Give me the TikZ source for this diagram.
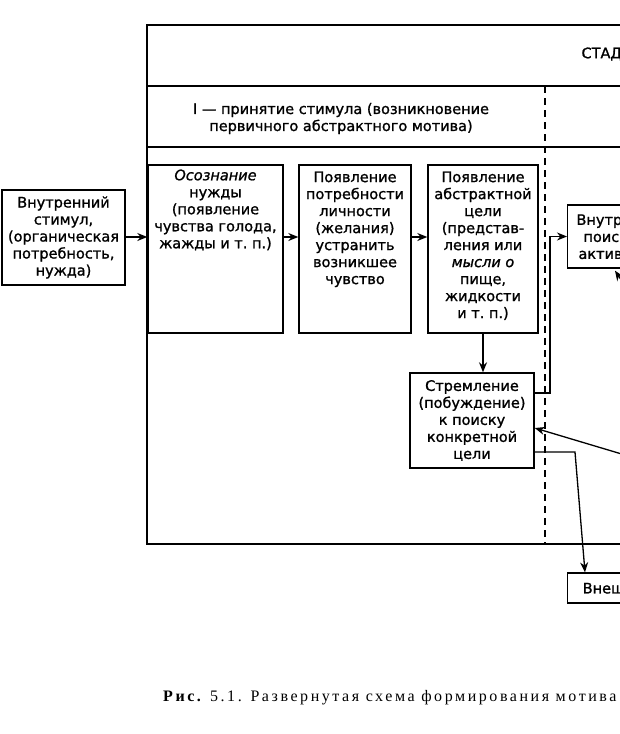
\documentclass[tikz,border=0pt]{standalone}
\usepackage{fontspec}
\newfontfamily\schemafont[FakeBold=1.2]{DejaVu Sans}
\newfontfamily\capfont[LetterSpace=16]{Liberation Serif}
\usepackage{tikz}
\usetikzlibrary{
  positioning,
  arrows.meta
}

\begin{document}
\begin{tikzpicture}[
  x=1pt, y=-1pt,
  >={Stealth[length=10pt,width=8pt]},
  font=\schemafont\fontsize{14.5}{17}\selectfont,
  frame/.style={line width=1.4pt},
  stageline/.style={line width=1.6pt, dash pattern=on 7pt off 5pt},
  box/.style={
    draw,
    line width=1.4pt,
    inner sep=0pt,
    align=center,
  },
  boxtext/.style={align=center, inner sep=0pt},
  arr/.style={->, line width=1.3pt},
]
  \useasboundingbox (0,0) rectangle (620,734);
  \clip (0,0) rectangle (620,734);

  % frame of the table
  \coordinate (ftop) at (147,25);
  \coordinate (fbot) at (147,544);
  \draw[frame] (640,25) -- (ftop) -- (fbot) -- (640,544);
  \draw[frame] (147,86) -- (640,86);
  \draw[frame] (147,147) -- (640,147);
  \draw[stageline] (545,86) -- (545,544);

  \node[anchor=west] (stadii) at (578,54) {СТАДИИ};
  \node[boxtext] (stage1) at (341,118.5) {%
    I — принятие стимула (возникновение\\
    первичного абстрактного мотива)
  };

  % boxes
  \node[box, minimum width=123, minimum height=95] (stim) at (63.5,237.5) {%
    Внутренний\\стимул,\\(органическая\\потребность,\\нужда)
  };
  \node[box, minimum width=135, minimum height=168] (osozn) at (215.5,249) {};
  \node[boxtext, below=5pt of osozn.north] {%
    \textit{Осознание}\\нужды\\(появление\\чувства голода,\\жажды и т.~п.)
  };
  \node[box, minimum width=112, minimum height=168] (potreb) at (355,249) {};
  \node[boxtext, below=7pt of potreb.north] {%
    Появление\\потребности\\личности\\(желания)\\устранить\\возникшее\\чувство
  };
  \node[box, minimum width=110, minimum height=168] (abstr) at (483,249) {};
  \node[boxtext, below=7pt of abstr.north] {%
    Появление\\абстрактной\\цели\\(представ-\\ления или\\\textit{мысли о}\\пище,\\жидкости\\и т.~п.)
  };
  \node[box, minimum width=124, minimum height=95] (strem) at (472,420.5) {%
    Стремление\\(побуждение)\\к поиску\\конкретной\\цели
  };
  \node[box, anchor=west, minimum width=110, minimum height=63, align=left,
        inner xsep=6pt] (vnutr) at (567,236.5) {%
    Внутренний\\\hspace{7pt}поиск\\\hspace{2pt}активности
  };
  \node[box, anchor=west, minimum width=100, minimum height=30, align=left,
        inner xsep=6pt] (vnesh) at (567,588) {Внешний};

  % arrows
  \coordinate (row) at (0,237);
  \draw[arr] (stim.east |- row) -- (osozn.west |- row);
  \draw[arr] (osozn.east |- row) -- (potreb.west |- row);
  \draw[arr] (potreb.east |- row) -- (abstr.west |- row);
  \draw[arr] (abstr.south) -- (abstr.south |- strem.north);
  \coordinate (up) at (550,393);
  \draw[arr] (strem.east |- up) -- (up) |- (vnutr.west);
  \coordinate (fromR) at (625,455);
  \draw[arr] (fromR) -- ([yshift=-7.5pt]strem.east);
  \coordinate (bend) at (575,452);
  \draw[arr] (strem.east |- bend) -- (bend) -- ([xshift=18pt]vnesh.north west);
  \coordinate (fromRR) at (632,296);
  \draw[arr] (fromRR) -- ([xshift=48pt,yshift=-2pt]vnutr.south west);

  \node[anchor=base west, inner sep=0pt] (caption) at (163,701) {%
    \capfont\fontsize{16}{19}\selectfont\textbf{Рис.}\ 5.1. Развернутая схема формирования мотива
  };
\end{tikzpicture}
\end{document}
